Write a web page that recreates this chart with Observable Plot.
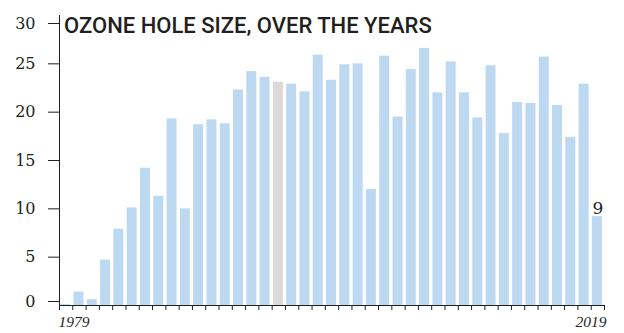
<!DOCTYPE html>
<html>
<head>
<meta charset="utf-8">
<script src="https://cdn.jsdelivr.net/npm/d3@7"></script>
<script src="https://cdn.jsdelivr.net/npm/@observablehq/plot@0.6"></script>
<style>
  html, body { margin: 0; padding: 0; background: #fff; }
</style>
</head>
<body>
<div id="chart"></div>
<script>
const titleText = "OZONE HOLE SIZE, OVER THE YEARS";
const years = [1979,1980,1981,1982,1983,1984,1985,1986,1987,1988,1989,1990,1991,1992,1993,1994,1995,1996,1997,1998,1999,2000,2001,2002,2003,2004,2005,2006,2007,2008,2009,2010,2011,2012,2013,2014,2015,2016,2017,2018,2019];
const sizes = [0.1,1.4,0.6,4.7,7.9,10.1,14.2,11.3,19.3,10.0,18.7,19.2,18.8,22.3,24.2,23.6,23.1,22.9,22.1,25.9,23.3,24.9,25.0,12.0,25.8,19.5,24.4,26.6,22.0,25.2,22.0,19.4,24.8,17.8,21.0,20.9,25.7,20.7,17.4,22.9,9.2];
const greyYear = 1995;
const yTicksMid = [5,10,15,20,25];
const yTickTop = [30];
const yTickZero = [0];

const rows = years.map((year, i) => ({year, size: sizes[i]}));
const ink = "#231f20";
const blue = "#bdd9f1";
const grey = "#dcdad8";

const chart = Plot.plot({
  width: 624,
  height: 333,
  marginLeft: 59,
  marginRight: 20,
  marginTop: 15,
  marginBottom: 28,
  style: {fontFamily: "DejaVu Serif", fontSize: "16px", color: ink, background: "#fff"},
  x: {type: "linear", domain: [years[0], years[years.length - 1] + 1]},
  y: {domain: [0, 30]},
  marks: [
    Plot.rectY(rows, {
      x1: "year",
      x2: d => d.year + 1,
      y: "size",
      fill: d => d.year === greyYear ? grey : blue,
      insetLeft: 1.2,
      insetRight: 2.1
    }),
    Plot.frame({anchor: "left", stroke: ink}),
    Plot.ruleY([0], {stroke: ink}),
    Plot.axisY(yTicksMid, {tickSize: 11, tickPadding: 13, stroke: ink, fill: ink, fontSize: 16, label: null}),
    Plot.axisY(yTickTop, {tickSize: 11, tickPadding: 13, stroke: ink, fill: ink, fontSize: 16, dy: 8, label: null}),
    Plot.axisY(yTickZero, {tickSize: 11, tickPadding: 13, stroke: ink, fill: ink, fontSize: 16, dy: -4, label: null}),
    Plot.axisX(years.concat([years[years.length - 1] + 1]), {tickSize: 5, stroke: ink, tickFormat: () => "", label: null}),
    Plot.text([years[0]], {
      x: d => d, text: d => String(d), frameAnchor: "bottom", lineAnchor: "top",
      textAnchor: "start", dx: -1, dy: 10, fontFamily: "Liberation Serif",
      fontStyle: "italic", fontSize: 15.5, fill: ink
    }),
    Plot.text([years[years.length - 1]], {
      x: d => d + 1, text: d => String(d), frameAnchor: "bottom", lineAnchor: "top",
      textAnchor: "end", dx: 2, dy: 10, fontFamily: "Liberation Serif",
      fontStyle: "italic", fontSize: 15.5, fill: ink
    }),
    Plot.text(rows.slice(-1), {
      x: d => d.year + 0.5, y: "size", text: d => d3.format(".0f")(d.size),
      lineAnchor: "bottom", dy: -3, fontSize: 17, fill: ink
    }),
    Plot.text([titleText], {
      text: d => d, frameAnchor: "top-left", lineAnchor: "top", textAnchor: "start",
      dx: 4.6, dy: 2, fontFamily: "Roboto", fontWeight: 500, fontSize: 22,
      fill: ink, ariaLabel: "title"
    })
  ]
});

d3.select(chart).selectAll('g[aria-label="title"] text')
  .attr("textLength", 252)
  .attr("lengthAdjust", "spacingAndGlyphs");

document.getElementById("chart").appendChild(chart);
</script>
</body>
</html>
